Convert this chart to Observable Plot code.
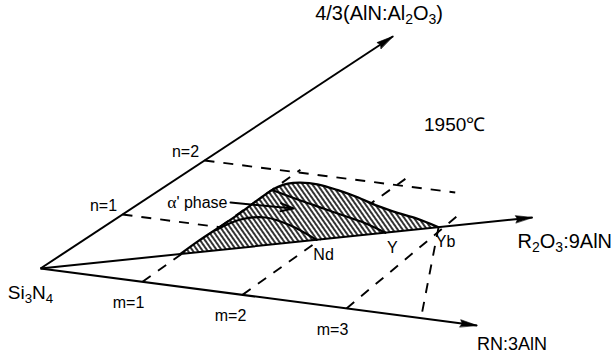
<!DOCTYPE html>
<html>
<head>
<meta charset="utf-8">
<script src="https://cdn.jsdelivr.net/npm/d3@7"></script>
<script src="https://cdn.jsdelivr.net/npm/@observablehq/plot@0.6"></script>
<style>
  html, body { margin: 0; padding: 0; background: #fff; }
</style>
</head>
<body>
<div id="chart"></div>
<script>
// α'-sialon plane Si3N4 – RN:3AlN – 4/3(AlN:Al2O3) at 1950 °C,
// drawn in oblique (m, n) composition coordinates.

const mTicks = [1, 2, 3];
const nTicks = [1, 2];

// corners / axis ends in (m, n)
const origin = [0, 0];
const mAxisEnd = [4.28, 0];
const nAxisEnd = [0, 4.30];
const rSlope = 0.525;                 // R2O3:9AlN join: n ≈ 0.525 m
const rAxisEndM = 3.392;

// single-phase limits of α' along the R2O3:9AlN join (m values)
const rareEarths = ["Nd", "Y", "Yb"];
const rareEarthM = [1.903, 2.378, 2.744];

// outer boundary of the α' field (Yb), from the join up and over to Yb
const ybBoundary = [
  [0.965, 0.507], [0.95, 0.75], [0.95, 1.0], [0.945, 1.25], [0.93, 1.45],
  [0.92, 1.62], [0.93, 1.74], [0.97, 1.81], [1.06, 1.85], [1.22, 1.86],
  [1.46, 1.81], [1.71, 1.74], [1.97, 1.65], [2.23, 1.58], [2.46, 1.53],
  [2.744, 1.441]
];
// inner limits for Y and Nd
const yBoundary = [
  [0.937, 1.675], [1.283, 1.575], [1.57, 1.498], [1.821, 1.43], [2.072, 1.362], [2.378, 1.248]
];
const ndBoundary = [
  [0.955, 0.94], [1.028, 1.161], [1.208, 1.242], [1.512, 1.169], [1.903, 0.999]
];

// dashed composition lines (start, end) in (m, n)
const gridFrom = [[0, 1], [0, 2], [1.0, 0], [1.98, 0], [3.0, 0], [2.744, 1.441]];
const gridTo   = [[0.95, 1.0], [2.45, 2.01], [0.90, 2.05], [1.87, 2.16], [2.76, 1.64], [3.73, 0]];

const alphaArrowFrom = [0.735, 1.403];
const alphaArrowTo = [1.325, 1.437];
const tempLabelAt = [1.6, 3.06];

// ---- oblique frame: plane position of one unit of m and of n
const M_DIR = [1, -0.1304];
const N_DIR = [0.8039, 0.5294];
const X = ([m, n]) => m * M_DIR[0] + n * N_DIR[0];
const Y = ([m, n]) => m * M_DIR[1] + n * N_DIR[1];
const onJoin = m => [m, rSlope * m];
const angleOf = p => Math.atan2(X(p), Y(p)) * 180 / Math.PI;

const axisEnds = [nAxisEnd, mAxisEnd, onJoin(rAxisEndM)];
const grid = gridFrom.map((a, i) => ({a, b: gridTo[i]}));
const limits = rareEarths.map((name, i) => ({name, p: onJoin(rareEarthM[i])}));

// narrow solid arrowhead for the axes
const wedge = {
  draw(context, l, r) {
    context.moveTo(0, -l);
    context.lineTo(-r, 0);
    context.lineTo(0, -2);
    context.lineTo(r, 0);
    context.closePath();
  }
};

// diagonal hatching for the α' field
const hatchDefs = () => {
  const ns = "http://www.w3.org/2000/svg";
  const defs = document.createElementNS(ns, "defs");
  const pat = document.createElementNS(ns, "pattern");
  pat.setAttribute("id", "hatch");
  pat.setAttribute("patternUnits", "userSpaceOnUse");
  pat.setAttribute("width", "4");
  pat.setAttribute("height", "4");
  pat.setAttribute("patternTransform", "rotate(-35)");
  const bg = document.createElementNS(ns, "rect");
  bg.setAttribute("width", "4");
  bg.setAttribute("height", "4");
  bg.setAttribute("fill", "white");
  const ln = document.createElementNS(ns, "line");
  ln.setAttribute("x1", "2"); ln.setAttribute("x2", "2");
  ln.setAttribute("y1", "0"); ln.setAttribute("y2", "4");
  ln.setAttribute("stroke", "black");
  ln.setAttribute("stroke-width", "1.6");
  pat.append(bg, ln);
  defs.append(pat);
  return defs;
};

const font = "'Liberation Sans', Arial, Helvetica, sans-serif";

const chart = Plot.plot({
  width: 614,
  height: 358,
  margin: 0,
  x: {domain: [-0.392, 5.627], axis: null},
  y: {domain: [-0.882, 2.627], axis: null},
  style: {background: "white", fontFamily: font, color: "black"},
  marks: [
    hatchDefs,
    // dashed composition lines
    Plot.link(grid, {
      x1: d => X(d.a), y1: d => Y(d.a), x2: d => X(d.b), y2: d => Y(d.b),
      stroke: "black", strokeWidth: 1.9, strokeDasharray: "10,9"
    }),
    // α' field (outer, Yb limit)
    Plot.line(ybBoundary, {
      x: X, y: Y, curve: "catmull-rom",
      fill: "url(#hatch)", stroke: "black", strokeWidth: 2.3
    }),
    // Y and Nd limits inside the field
    Plot.line(yBoundary, {x: X, y: Y, curve: "catmull-rom", stroke: "black", strokeWidth: 2.2}),
    Plot.line(ndBoundary, {x: X, y: Y, curve: "catmull-rom", stroke: "black", strokeWidth: 2.2}),
    // axes
    Plot.link(axisEnds, {
      x1: () => X(origin), y1: () => Y(origin), x2: X, y2: Y,
      stroke: "black", strokeWidth: 2
    }),
    Plot.vector(axisEnds, {
      x: X, y: Y, rotate: angleOf, length: 17, r: 3.6, anchor: "end",
      shape: wedge, fill: "black", stroke: "black", strokeWidth: 0.6
    }),
    // pointer to the α' field
    Plot.arrow([{a: alphaArrowFrom, b: alphaArrowTo}], {
      x1: d => X(d.a), y1: d => Y(d.a), x2: d => X(d.b), y2: d => Y(d.b),
      stroke: "black", strokeWidth: 2, headLength: 10, headAngle: 35
    }),
    Plot.text([alphaArrowFrom], {x: X, y: Y, text: () => "α' phase", textAnchor: "end", dx: -3, fontSize: 16}),
    // axis end labels
    Plot.text([origin], {x: X, y: Y, text: () => "Si_3N_4", dx: -10, dy: 24, fontSize: 19}),
    Plot.text([nAxisEnd], {x: X, y: Y, text: () => "4/3(AlN:Al_2O_3)", dx: -14, dy: -23, fontSize: 20}),
    Plot.text([onJoin(rAxisEndM)], {x: X, y: Y, text: () => "R_2O_3:9AlN", textAnchor: "start", dx: -15, dy: 24, fontSize: 20}),
    Plot.text([mAxisEnd], {x: X, y: Y, text: () => "RN:3AlN", textAnchor: "start", dx: 0, dy: 19, fontSize: 18}),
    // tick labels
    Plot.text(mTicks, {x: m => X([m, 0]), y: m => Y([m, 0]), text: m => `m=${m}`, dx: -14, dy: 21, fontSize: 16}),
    Plot.text(nTicks, {x: n => X([0, n]), y: n => Y([0, n]), text: n => `n=${n}`, dx: -19, dy: -9, fontSize: 16}),
    // rare-earth limits
    Plot.text(limits, {x: d => X(d.p), y: d => Y(d.p), text: "name", dx: 7, dy: 15, fontSize: 16}),
    Plot.text([tempLabelAt], {x: X, y: Y, text: () => "1950℃", fontSize: 19})
  ]
});

// chemical subscripts ("Al_2O_3" -> Al₂O₃) and a serif α
const svgNS = "http://www.w3.org/2000/svg";
for (const t of chart.querySelectorAll("text")) {
  const s = t.textContent;
  if (s.startsWith("α")) {
    t.textContent = "";
    const a = document.createElementNS(svgNS, "tspan");
    a.textContent = "α";
    a.setAttribute("font-family", "'Liberation Serif', 'DejaVu Serif', serif");
    a.setAttribute("font-size", "1.1em");
    const rest = document.createElementNS(svgNS, "tspan");
    rest.textContent = s.slice(1);
    t.append(a, rest);
    continue;
  }
  if (!s.includes("_")) continue;
  const parts = s.split(/_(\d)/);
  t.textContent = "";
  let lowered = false;
  parts.forEach((p, i) => {
    if (!p) return;
    const ts = document.createElementNS(svgNS, "tspan");
    ts.textContent = p;
    if (i % 2 === 1) {
      ts.setAttribute("font-size", "0.7em");
      if (!lowered) ts.setAttribute("dy", "0.3em");
      lowered = true;
    } else if (lowered) {
      ts.setAttribute("dy", "-0.21em");
      lowered = false;
    }
    t.appendChild(ts);
  });
}

document.getElementById("chart").appendChild(chart);
</script>
</body>
</html>
